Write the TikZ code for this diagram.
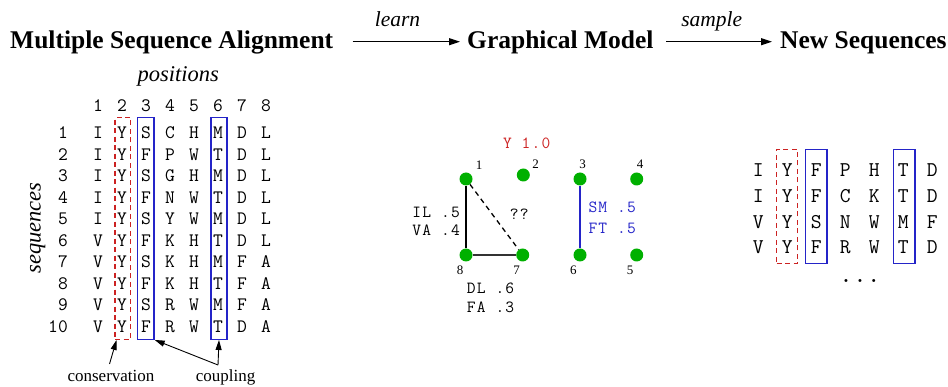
\documentclass[tikz,border=0pt]{standalone}
\usepackage{fontspec}
\setmainfont{Liberation Serif}
\setmonofont{Latin Modern Mono}
\newfontfamily\gmono[LetterSpace=7]{Latin Modern Mono}
\usetikzlibrary{arrows.meta,calc}
\definecolor{cred}{RGB}{204,34,34}
\definecolor{cblue}{RGB}{36,36,200}
\definecolor{cgreen}{RGB}{0,176,0}
\begin{document}
\begin{tikzpicture}[x=1pt,y=-1pt,
  title/.style={font=\fontsize{25.5}{30}\selectfont\bfseries, anchor=base west, inner sep=0},
  lab/.style={font=\fontsize{21.5}{26}\selectfont\itshape, anchor=base, inner sep=0},
  seqtxt/.style={font=\fontsize{19}{22}\selectfont\ttfamily, anchor=base, inner sep=0},
  newtxt/.style={font=\fontsize{21}{24}\selectfont\ttfamily, anchor=base, inner sep=0},
  gtxt/.style={font=\fontsize{17}{19}\selectfont\gmono, inner sep=0},
  numtxt/.style={font=\fontsize{13}{15}\selectfont, inner sep=0},
  note/.style={font=\fontsize{17}{20}\selectfont, anchor=base, inner sep=0},
  gnode/.style={circle, fill=cgreen, minimum size=13, inner sep=0},
  redbox/.style={draw=cred, dashed, dash pattern=on 5pt off 3.5pt, line width=1.3, inner sep=0},
  bluebox/.style={draw=cblue, line width=1.3, inner sep=0},
  bigarrow/.style={-{Triangle[length=11,width=7]}, line width=1.3},
  smallarrow/.style={-{Triangle[length=10,width=6]}, line width=0.9}
]
\useasboundingbox (0,0) rectangle (948,387);

% titles
\node[title] (t1) at (10,49) {Multiple Sequence Alignment};
\node[title] (t2) at (467,49) {Graphical Model};
\node[title] (t3) at (780,49) {New Sequences};
\coordinate (a1s) at (352.7,41.7);
\coordinate (a1e) at (460,41.7);
\coordinate (a2s) at (666,41.7);
\coordinate (a2e) at (772,41.7);
\draw[bigarrow] (a1s) -- (a1e);
\draw[bigarrow] (a2s) -- (a2e);
\node[lab] (learn) at (397.5,26.5) {learn};
\node[lab] (sample) at (711.7,26.5) {sample};

% alignment
\node[lab, font=\fontsize{22.5}{26}\selectfont\itshape] (pos) at (178.3,81.7) {positions};
\node[lab, font=\fontsize{22.5}{26}\selectfont\itshape, rotate=90] (seqs) at (40.5,228) {sequences};

\foreach \k in {1,...,8} {
  \node[seqtxt] (h\k) at ({98+24*(\k-1)},111.7) {\k};
}
\foreach \row [count=\r] in {{I,Y,S,C,H,M,D,L},{I,Y,F,P,W,T,D,L},{I,Y,S,G,H,M,D,L},{I,Y,F,N,W,T,D,L},{I,Y,S,Y,W,M,D,L},{V,Y,F,K,H,T,D,L},{V,Y,S,K,H,M,F,A},{V,Y,F,K,H,T,F,A},{V,Y,S,R,W,M,F,A},{V,Y,F,R,W,T,D,A}} {
  \node[seqtxt, anchor=base east] (r\r) at (68,{138.7+21.5*(\r-1)}) {\r};
  \foreach \c [count=\k] in \row {
    \node[seqtxt] (a-\r-\k) at ({98+24*(\k-1)},{138.7+21.5*(\r-1)}) {\c};
  }
}
\node[redbox, minimum width=15.7, minimum height=221.6] (bx2) at (122.9,228.5) {};
\node[bluebox, minimum width=16.3, minimum height=221.6] (bx3) at (145.9,228.5) {};
\node[bluebox, minimum width=16, minimum height=221.6] (bx6) at (219,228.5) {};

\node[note] (cons) at (111,381.7) {conservation};
\node[note] (coup) at (225.5,381.7) {coupling};
\coordinate (consT) at (109.5,364);
\coordinate (consH) at (116.5,340);
\coordinate (coupT) at (218,365);
\draw[smallarrow] (consT) -- (consH);
\draw[smallarrow] (coupT) -- (bx6.south);
\draw[smallarrow] (coupT) -- (bx3.south east);

% graphical model
\node[gnode] (g1) at (466,179) {};
\node[gnode] (g2) at (523.3,175) {};
\node[gnode] (g3) at (580,179) {};
\node[gnode] (g4) at (636.7,179) {};
\node[gnode] (g8) at (466,255) {};
\node[gnode] (g7) at (522.7,255) {};
\node[gnode] (g6) at (580,255) {};
\node[gnode] (g5) at (636.7,255) {};
\draw[line width=1.3] (g1) -- (g8);
\draw[line width=2, black!80] (g8) -- (g7);
\draw[line width=1.3, dashed, dash pattern=on 5pt off 4pt] (g1) -- (g7);
\draw[line width=1.3, cblue] (g3) -- (g6);
\node[numtxt] (n1) at (479,165) {1};
\node[numtxt] (n2) at (535.7,164) {2};
\node[numtxt] (n3) at (582.7,164) {3};
\node[numtxt] (n4) at (640,164) {4};
\node[numtxt] (n8) at (460,270) {8};
\node[numtxt] (n7) at (516.7,270) {7};
\node[numtxt] (n6) at (573.3,270) {6};
\node[numtxt] (n5) at (630,270) {5};
\node[gtxt, anchor=base, text=cred] (y10) at (526.7,148.3) {Y 1.0};
\node[gtxt, anchor=base east] (il) at (460,217.3) {IL .5};
\node[gtxt, anchor=base east] (va) at (460,236) {VA .4};
\node[gtxt, anchor=base] (qq) at (519.3,220) {??};
\node[gtxt, anchor=base west, text=cblue] (sm) at (588.3,212.7) {SM .5};
\node[gtxt, anchor=base west, text=cblue] (ft) at (588.3,234) {FT .5};
\node[gtxt, anchor=base west] (dl) at (466.7,293.3) {DL .6};
\node[gtxt, anchor=base west] (fa) at (466.7,312.3) {FA .3};

% new sequences
\foreach \row [count=\r] in {{I,Y,F,P,H,T,D},{I,Y,F,C,K,T,D},{V,Y,S,N,W,M,F},{V,Y,F,R,W,T,D}} {
  \foreach \c [count=\k] in \row {
    \node[newtxt] (s-\r-\k) at ({758.3+29*(\k-1)},{176.7+25.7*(\r-1)}) {\c};
  }
}
\node[redbox, minimum width=21, minimum height=114] (nb2) at (787.2,206.3) {};
\node[bluebox, minimum width=21.4, minimum height=114] (nb3) at (816.2,206.3) {};
\node[bluebox, minimum width=21.7, minimum height=114] (nb6) at (904.2,206.3) {};
\node[font=\fontsize{27}{30}\selectfont\ttfamily, anchor=base, inner sep=0] (dots) at (860,283) {...};
\end{tikzpicture}
\end{document}
